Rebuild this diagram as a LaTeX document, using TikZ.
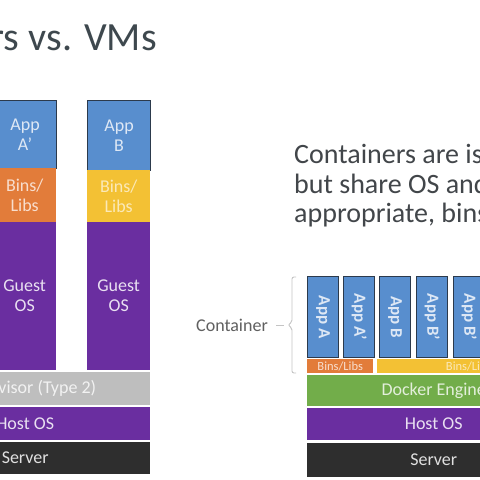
\documentclass[tikz,border=0pt]{standalone}
\usepackage{fontspec}
\setmainfont{Carlito}
\usepackage{tikz}

\definecolor{appblue}{RGB}{88,142,206}
\definecolor{boxline}{RGB}{44,58,76}
\definecolor{binorange}{RGB}{226,124,58}
\definecolor{binyellow}{RGB}{243,193,52}
\definecolor{ospurple}{RGB}{106,46,160}
\definecolor{hypgray}{RGB}{190,190,190}
\definecolor{servdark}{RGB}{46,46,46}
\definecolor{dockgreen}{RGB}{114,173,74}
\definecolor{titlegray}{RGB}{62,72,78}
\definecolor{bodygray}{RGB}{66,70,74}
\definecolor{labelgray}{RGB}{96,96,96}
\definecolor{bracegray}{RGB}{196,196,196}

\begin{document}
\begin{tikzpicture}[x=1pt, y=-1pt,
	layer/.style={rectangle, inner sep=0pt, anchor=north west, align=center, font=\fontsize{18}{20}\selectfont},
	appbox/.style={layer, draw=boxline, line width=1.2pt, fill=appblue, text=appblue!20!white},
	applbl/.style={rotate=-90, inner sep=0pt, text=appblue!20!white, font=\fontsize{17}{19}\selectfont\bfseries},
	]
	\path[use as bounding box, fill=white] (0,0) rectangle (480,480);
	\clip (0,0) rectangle (480,480);

	% title and text
	\node[anchor=base east, inner sep=0pt, text=titlegray, font=\fontsize{40}{44}\selectfont] (title) at (157,50) {Containers vs. VMs};
	\node[anchor=base west, inner sep=0pt, text=bodygray, font=\fontsize{28}{30}\selectfont] (intro1) at (294,163) {Containers are isolated,};
	\node[anchor=base west, inner sep=0pt, text=bodygray, font=\fontsize{28}{30}\selectfont] (intro2) at (294,193) {but share OS and, where};
	\node[anchor=base west, inner sep=0pt, text=bodygray, font=\fontsize{28}{30}\selectfont] (intro3) at (294,222) {appropriate, bins/libraries};

	% virtual machines
	\node[appbox, minimum width=63pt, minimum height=68pt] (appAp) at (-7,100) {App\\A’};
	\node[layer, fill=binorange, text=binorange!25!white, minimum width=63pt, minimum height=54pt] (binsA) at (-7,168) {Bins/\\Libs};
	\node[layer, fill=ospurple, text=ospurple!15!white, minimum width=63pt, minimum height=148pt] (guestA) at (-7,222) {Guest\\OS};
	\node[appbox, minimum width=63pt, minimum height=70pt] (appB) at (87,100) {App\\B};
	\node[layer, fill=binyellow, text=binyellow!35!white, minimum width=63pt, minimum height=52pt] (binsB) at (87,170) {Bins/\\Libs};
	\node[layer, fill=ospurple, text=ospurple!15!white, minimum width=63pt, minimum height=148pt] (guestB) at (87,222) {Guest\\OS};
	\node[layer, fill=hypgray, text=white!95!black, minimum width=250pt, minimum height=33pt] (hyp) at (-100,372) {Hypervisor (Type 2)};
	\node[layer, fill=ospurple, text=ospurple!15!white, minimum width=250pt, minimum height=33pt] (hostL) at (-100,407) {Host OS};
	\node[layer, fill=servdark, text=white!88!black, minimum width=250pt, minimum height=32pt] (servL) at (-100,442) {Server};

	% containers
	\node[appbox, minimum width=31pt, minimum height=81pt] (cA) at (307,276) {};
	\node[appbox, minimum width=31pt, minimum height=81pt] (cAp) at (343,276) {};
	\node[appbox, minimum width=31pt, minimum height=81pt] (cB) at (379,276) {};
	\node[appbox, minimum width=31pt, minimum height=81pt] (cBp) at (416,276) {};
	\node[appbox, minimum width=31pt, minimum height=81pt] (cBpp) at (453,276) {};
	\node[applbl] (cAt) at (cA.center) {App A};
	\node[applbl] (cApt) at (cAp.center) {App A’};
	\node[applbl] (cBt) at (cB.center) {App B};
	\node[applbl] (cBpt) at (cBp.center) {App B’};
	\node[applbl] (cBppt) at (cBpp.center) {App B’};
	\node[layer, fill=binorange, text=binorange!25!white, font=\fontsize{12.5}{13}\selectfont, minimum width=66pt, minimum height=14pt] (cbinsA) at (307,359) {Bins/Libs};
	\node[layer, fill=binyellow, text=binyellow!35!white, font=\fontsize{12.5}{13}\selectfont, minimum width=183pt, minimum height=14pt] (cbinsB) at (377,359) {Bins/Libs};
	\node[layer, fill=dockgreen, text=dockgreen!20!white, minimum width=253pt, minimum height=31pt] (dock) at (307,375) {Docker Engine};
	\node[layer, fill=ospurple, text=ospurple!15!white, minimum width=253pt, minimum height=32pt] (hostR) at (307,408) {Host OS};
	\node[layer, fill=servdark, text=white!88!black, minimum width=253pt, minimum height=34pt] (servR) at (307,443) {Server};

	% brace
	\node[anchor=east, inner sep=0pt, text=labelgray, font=\fontsize{18}{20}\selectfont] (contlbl) at (268,325) {Container};
	\coordinate (tip) at (288,325);
	\draw[bracegray, line width=0.9pt] ([xshift=8pt]contlbl.east) -- ([xshift=16pt]contlbl.east);
	\draw[bracegray, line width=0.9pt, rounded corners=2pt] (296,277) -- (292,277) -- (292,322) -- (tip) -- (292,328) -- (292,373) -- (296,373);

\end{tikzpicture}
\end{document}
